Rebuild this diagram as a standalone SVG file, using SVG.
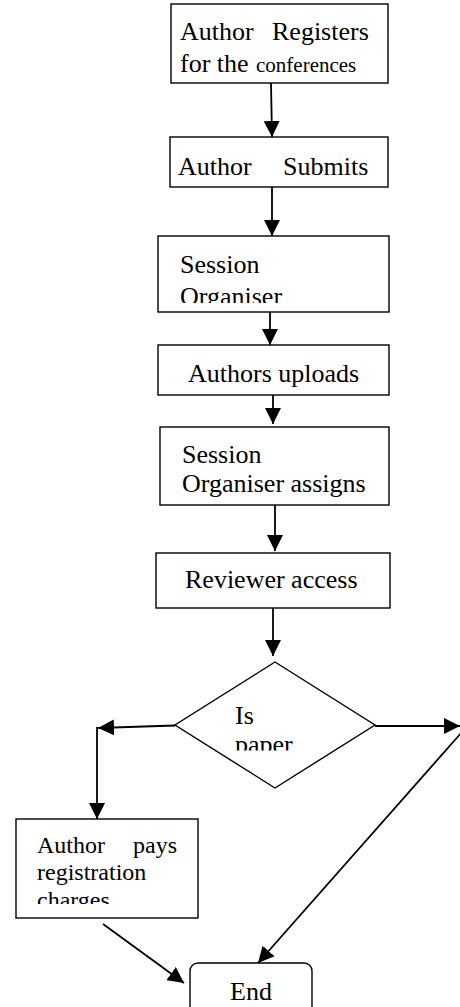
<svg xmlns="http://www.w3.org/2000/svg" width="460" height="1007" viewBox="0 0 460 1007">
  <style>
    .box { fill: #fff; stroke: #000; stroke-width: 1.4; }
    text { font-family: "Liberation Serif", "Times New Roman", Times, serif; font-size: 26px; fill: #000; }
    .ts { font-size: 21px; }
    .tm { font-size: 24px; }
    .link { fill: none; stroke: #000; stroke-width: 1.8; }
  </style>
  <defs>
    <marker id="arrow" viewBox="0 0 16 16" refX="16" refY="8" markerWidth="16" markerHeight="16" markerUnits="userSpaceOnUse" orient="auto">
      <path d="M0,0 L16,8 L0,16 z" fill="#000"/>
    </marker>
    <!-- text frames that cut off overflowing lines -->
    <clipPath id="clipSession"><rect x="158" y="236" width="231" height="67"/></clipPath>
    <clipPath id="clipPaper"><rect x="200" y="690" width="150" height="60.5"/></clipPath>
    <clipPath id="clipPays"><rect x="16" y="819" width="182" height="85"/></clipPath>
  </defs>

  <!-- connectors -->
  <g id="connectors">
    <line class="link" x1="271" y1="83" x2="272" y2="137" marker-end="url(#arrow)"/>
    <line class="link" x1="272" y1="187" x2="272" y2="236" marker-end="url(#arrow)"/>
    <line class="link" x1="270" y1="305" x2="270" y2="345" marker-end="url(#arrow)"/>
    <line class="link" x1="273" y1="395" x2="273" y2="424" marker-end="url(#arrow)"/>
    <line class="link" x1="275" y1="505" x2="275" y2="551" marker-end="url(#arrow)"/>
    <line class="link" x1="273" y1="608" x2="273" y2="656" marker-end="url(#arrow)"/>
    <line class="link" x1="175" y1="725.5" x2="98" y2="728" marker-end="url(#arrow)"/>
    <line class="link" x1="97" y1="727" x2="97" y2="819" marker-end="url(#arrow)"/>
    <line class="link" x1="375" y1="726" x2="460" y2="726" marker-end="url(#arrow)"/>
    <line class="link" x1="462" y1="732" x2="258" y2="963" marker-end="url(#arrow)"/>
    <line class="link" x1="103" y1="924" x2="184" y2="983" marker-end="url(#arrow)"/>
  </g>

  <g id="register">
    <rect class="box" x="171" y="4" width="217" height="79"/>
    <text x="180" y="40">Author</text>
    <text x="272" y="40">Registers</text>
    <text x="180" y="72">for the <tspan class="ts" x="256">conferences</tspan></text>
  </g>

  <g id="submits">
    <rect class="box" x="170" y="137" width="218" height="50"/>
    <text x="178" y="175">Author</text>
    <text x="283" y="175">Submits</text>
  </g>

  <g id="organiser">
    <rect class="box" x="158" y="236" width="231" height="76"/>
    <g clip-path="url(#clipSession)">
      <text x="180" y="273">Session</text>
      <text x="180" y="305">Organiser</text>
    </g>
  </g>

  <g id="uploads">
    <rect class="box" x="158" y="345" width="231" height="50"/>
    <text x="188" y="382">Authors uploads</text>
  </g>

  <g id="assigns">
    <rect class="box" x="160" y="427" width="229" height="78"/>
    <text x="182" y="463">Session</text>
    <text x="182" y="492">Organiser assigns</text>
  </g>

  <g id="reviewer">
    <rect class="box" x="156" y="553" width="234" height="55"/>
    <text x="185" y="588">Reviewer access</text>
  </g>

  <g id="decision">
    <polygon class="box" points="275,662 375,725 275,788 175,725"/>
    <g clip-path="url(#clipPaper)">
      <text x="235" y="724">Is</text>
      <text x="235" y="753">paper</text>
    </g>
  </g>

  <g id="pays">
    <rect class="box" x="16" y="819" width="182" height="99"/>
    <g clip-path="url(#clipPays)">
      <text class="tm" x="37" y="853">Author</text>
      <text class="tm" x="133" y="853">pays</text>
      <text class="tm" x="37" y="880">registration</text>
      <text class="tm" x="37" y="908">charges</text>
    </g>
  </g>

  <g id="end">
    <rect class="box" x="190" y="963" width="122" height="60" rx="8" ry="8"/>
    <text x="230" y="1000">End</text>
  </g>
</svg>
